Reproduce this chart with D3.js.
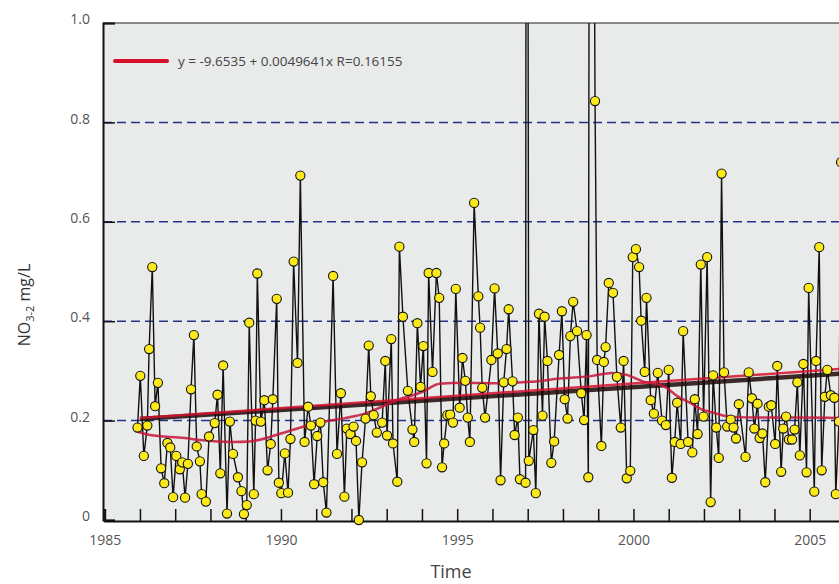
<!DOCTYPE html>
<html>
<head>
<meta charset="utf-8">
<script src="https://d3js.org/d3.v7.min.js"></script>
<style>
  body { margin: 0; background: #fff; font-family: "Open Sans", sans-serif; }
  svg { display: block; }
</style>
</head>
<body>
<div id="chart"></div>
<script>
// sample dates (decimal years) and NO3 values
const dates = [1985.93,1986.01,1986.11,1986.21,1986.26,1986.35,1986.43,1986.51,1986.60,1986.69,
  1986.78,1986.86,1986.94,1987.03,1987.13,1987.20,1987.28,1987.36,1987.45,1987.53,
  1987.61,1987.70,1987.75,1987.87,1987.96,1988.12,1988.20,1988.28,1988.36,1988.47,
  1988.55,1988.64,1988.78,1988.88,1988.95,1989.03,1989.10,1989.23,1989.28,1989.33,
  1989.43,1989.53,1989.62,1989.71,1989.77,1989.88,1989.94,1990.01,1990.11,1990.20,
  1990.27,1990.36,1990.47,1990.55,1990.67,1990.77,1990.85,1990.94,1991.03,1991.12,
  1991.20,1991.29,1991.48,1991.59,1991.70,1991.80,1991.87,1991.97,1992.06,1992.13,
  1992.21,1992.30,1992.40,1992.49,1992.55,1992.63,1992.72,1992.87,1992.96,1993.01,
  1993.13,1993.18,1993.30,1993.36,1993.46,1993.60,1993.73,1993.78,1993.87,1993.96,
  1994.04,1994.13,1994.19,1994.30,1994.41,1994.49,1994.57,1994.63,1994.72,1994.80,
  1994.88,1994.96,1995.07,1995.15,1995.23,1995.30,1995.36,1995.48,1995.60,1995.65,
  1995.71,1995.79,1995.97,1996.06,1996.15,1996.23,1996.32,1996.40,1996.46,1996.57,
  1996.63,1996.72,1996.78,1996.94,1996.97,1997.03,1997.16,1997.23,1997.32,1997.42,
  1997.48,1997.56,1997.67,1997.75,1997.89,1997.97,1998.05,1998.13,1998.21,1998.29,
  1998.40,1998.52,1998.60,1998.67,1998.72,1998.78,1998.91,1998.97,1999.09,1999.16,
  1999.21,1999.30,1999.42,1999.53,1999.64,1999.72,1999.81,1999.91,1999.98,2000.07,
  2000.16,2000.22,2000.32,2000.37,2000.49,2000.58,2000.69,2000.81,2000.92,2001.00,
  2001.09,2001.17,2001.24,2001.34,2001.41,2001.55,2001.67,2001.74,2001.82,2001.91,
  2001.99,2002.09,2002.19,2002.26,2002.35,2002.42,2002.50,2002.57,2002.66,2002.76,
  2002.84,2002.91,2002.99,2003.18,2003.27,2003.36,2003.43,2003.52,2003.58,2003.66,
  2003.74,2003.84,2003.91,2004.02,2004.08,2004.19,2004.25,2004.33,2004.41,2004.50,
  2004.57,2004.65,2004.72,2004.82,2004.91,2004.97,2005.13,2005.18,2005.27,2005.34,
  2005.43,2005.50,2005.60,2005.70,2005.74,2005.83,2005.89,2005.97];

const no3 = [0.186,0.29,0.129,0.19,0.344,0.509,0.229,0.276,0.104,0.074,
  0.155,0.146,0.046,0.129,0.102,0.116,0.045,0.113,0.263,0.372,
  0.148,0.118,0.052,0.037,0.168,0.195,0.252,0.094,0.311,0.013,
  0.198,0.133,0.086,0.058,0.012,0.03,0.397,0.052,0.2,0.496,
  0.198,0.241,0.1,0.153,0.243,0.445,0.075,0.054,0.134,0.055,
  0.163,0.52,0.316,0.693,0.157,0.228,0.19,0.072,0.169,0.196,
  0.076,0.015,0.491,0.133,0.255,0.047,0.184,0.173,0.188,0.159,
  0,0.116,0.204,0.351,0.249,0.211,0.176,0.196,0.32,0.17,
  0.364,0.154,0.077,0.55,0.409,0.26,0.182,0.157,0.396,0.268,
  0.35,0.114,0.497,0.298,0.497,0.447,0.106,0.154,0.211,0.212,
  0.196,0.465,0.226,0.326,0.28,0.206,0.157,0.638,0.45,0.387,
  0.266,0.206,0.322,0.466,0.335,0.08,0.277,0.344,0.424,0.279,
  0.171,0.206,0.082,0.075,3.0,0.119,0.181,0.054,0.415,0.21,
  0.409,0.32,0.115,0.158,0.332,0.42,0.243,0.204,0.37,0.439,
  0.38,0.255,0.201,0.372,0.086,3.0,0.843,0.322,0.149,0.318,
  0.348,0.477,0.457,0.288,0.186,0.32,0.084,0.099,0.529,0.545,
  0.509,0.401,0.298,0.447,0.241,0.214,0.296,0.2,0.191,0.302,
  0.085,0.157,0.236,0.153,0.38,0.157,0.136,0.243,0.173,0.514,
  0.208,0.529,0.036,0.291,0.186,0.125,0.697,0.297,0.188,0.202,
  0.186,0.164,0.233,0.127,0.297,0.245,0.184,0.234,0.165,0.174,
  0.076,0.228,0.231,0.153,0.31,0.097,0.184,0.208,0.162,0.162,
  0.182,0.277,0.13,0.314,0.096,0.467,0.057,0.32,0.549,0.1,
  0.248,0.302,0.251,0.246,0.052,0.198,0.72,0.25];

// smoothed curve (red)
const smoothYears = [1985.93,1986.28,1987.27,1987.70,1988.63,1989.11,1990.05,1991.01,1991.81,1992.38,
  1993.28,1994.02,1994.50,1995.21,1996.12,1997.06,1997.99,1998.84,1999.38,1999.81,
  2000.26,2000.89,2001.23,2001.60,2001.89,2002.31,2002.73,2003.58,2004.72,2006.00];
const smoothValues = [0.178,0.171,0.165,0.161,0.157,0.158,0.175,0.195,0.205,0.214,
  0.241,0.258,0.274,0.276,0.275,0.278,0.285,0.29,0.296,0.292,
  0.279,0.268,0.25,0.236,0.224,0.215,0.208,0.206,0.206,0.205];

// linear fits: [intercept, slope]
const redFit = [-9.6535, 0.0049641];
const blackFit = [-8.9326, 0.0046];
const fitLabel = "y = -9.6535 + 0.0049641x R=0.16155";

const yTicks = [0, 0.2, 0.4, 0.6, 0.8, 1.0];
const gridValues = [0.2, 0.4, 0.6, 0.8];
const yearTicks = d3.range(1985, 2007);
const labelYears = [1985, 1990, 1995, 2000, 2005];

var width = 839, height = 584;
var plotLeft = 103, plotTop = 23, plotBottom = 520;

var x = d3.scaleLinear().domain([1985, 2006]).range([104.7, 104.7 + 21 * 35.25]);
var y = d3.scaleLinear().domain([0, 1]).range([plotBottom, plotTop]);

var svg = d3.select("#chart").append("svg")
  .attr("width", width)
  .attr("height", height);

svg.append("defs").append("clipPath").attr("id", "plotclip")
  .append("rect")
  .attr("x", plotLeft).attr("y", plotTop)
  .attr("width", width - plotLeft).attr("height", plotBottom - plotTop + 1);

// plot background
svg.append("rect")
  .attr("x", plotLeft).attr("y", plotTop)
  .attr("width", width - plotLeft).attr("height", plotBottom - plotTop + 1)
  .attr("fill", "#e9ebea");

// dashed grid
svg.append("g").selectAll("line")
  .data(gridValues)
  .enter().append("line")
  .attr("x1", plotLeft).attr("x2", width)
  .attr("y1", d => y(d)).attr("y2", d => y(d))
  .attr("stroke", "#24338a")
  .attr("stroke-width", 1.5)
  .attr("stroke-dasharray", "9,5");

// axes
var xAxis = svg.append("g")
  .attr("transform", "translate(0," + (plotBottom + 1) + ")")
  .call(d3.axisBottom(x).tickValues(yearTicks).tickSize(-12).tickPadding(14)
    .tickFormat(d => labelYears.includes(d) ? d : ""));
xAxis.select(".domain").attr("stroke", "#111").attr("stroke-width", 2);
xAxis.selectAll(".tick line").attr("stroke", "#111").attr("stroke-width", 1.5);
xAxis.selectAll(".tick text").attr("font-family", "Open Sans").attr("font-size", 14).attr("fill", "#555");

var yAxis = svg.append("g")
  .attr("transform", "translate(" + plotLeft + ",0)")
  .call(d3.axisLeft(y).tickValues(yTicks).tickSize(-12).tickPadding(13)
    .tickFormat(d => d === 0 ? "0" : d3.format(".1f")(d)));
yAxis.select(".domain").attr("stroke", "#111").attr("stroke-width", 2);
yAxis.selectAll(".tick line").attr("stroke", "#111").attr("stroke-width", 1.5);
yAxis.selectAll(".tick text").attr("font-family", "Open Sans").attr("font-size", 14)
  .attr("fill", "#555").attr("dy", "0.05em");

// top border
svg.append("line")
  .attr("x1", plotLeft).attr("x2", width)
  .attr("y1", plotTop).attr("y2", plotTop)
  .attr("stroke", "#222").attr("stroke-width", 1.2);

var series = dates.map((t, i) => ({t: t, v: no3[i]}));
var plot = svg.append("g");
var clipped = plot.append("g").attr("clip-path", "url(#plotclip)");

var line = d3.line().x(d => x(d.t)).y(d => y(d.v));

clipped.append("path")
  .datum(series)
  .attr("d", line)
  .attr("fill", "none")
  .attr("stroke", "#111")
  .attr("stroke-width", 1.4);

// points
plot.append("g").selectAll("circle")
  .data(series.filter(d => d.v <= 1))
  .enter().append("circle")
  .attr("cx", d => x(d.t))
  .attr("cy", d => y(d.v))
  .attr("r", 4.6)
  .attr("fill", "#fbe91a")
  .attr("stroke", "#111")
  .attr("stroke-width", 1.1);

// fits on top
var fitYears = [1986, 2006];
clipped.append("path")
  .datum(fitYears.map(t => ({t: t, v: blackFit[0] + blackFit[1] * t})))
  .attr("d", line)
  .attr("fill", "none")
  .attr("stroke", "#1b0808")
  .attr("stroke-opacity", 0.85)
  .attr("stroke-width", 4.5);

clipped.append("path")
  .datum(fitYears.map(t => ({t: t, v: redFit[0] + redFit[1] * t})))
  .attr("d", line)
  .attr("fill", "none")
  .attr("stroke", "#d3122e")
  .attr("stroke-opacity", 0.85)
  .attr("stroke-width", 2.5);

clipped.append("path")
  .datum(smoothYears.map((t, i) => ({t: t, v: smoothValues[i]})))
  .attr("d", d3.line().x(d => x(d.t)).y(d => y(d.v)).curve(d3.curveMonotoneX))
  .attr("fill", "none")
  .attr("stroke", "#c8143a")
  .attr("stroke-opacity", 0.85)
  .attr("stroke-width", 2.5);

// legend
svg.append("line")
  .attr("x1", 115).attr("x2", 167)
  .attr("y1", 61).attr("y2", 61)
  .attr("stroke", "#d6102a")
  .attr("stroke-width", 4)
  .attr("stroke-linecap", "round");
svg.append("text")
  .attr("x", 178).attr("y", 61)
  .attr("dy", "0.35em")
  .attr("font-size", 13.5)
  .attr("fill", "#444")
  .text(fitLabel);

// axis titles
svg.append("text")
  .attr("x", 451).attr("y", 578)
  .attr("text-anchor", "middle")
  .attr("font-size", 18)
  .attr("fill", "#444")
  .text("Time");

var yt = svg.append("text")
  .attr("transform", "translate(30,305) rotate(-90)")
  .attr("text-anchor", "middle")
  .attr("font-size", 16)
  .attr("fill", "#333");
yt.append("tspan").text("NO");
yt.append("tspan").attr("font-size", 11).attr("dy", 4).text("3-2");
yt.append("tspan").attr("dy", -4).text(" mg/L");
</script>
</body>
</html>
